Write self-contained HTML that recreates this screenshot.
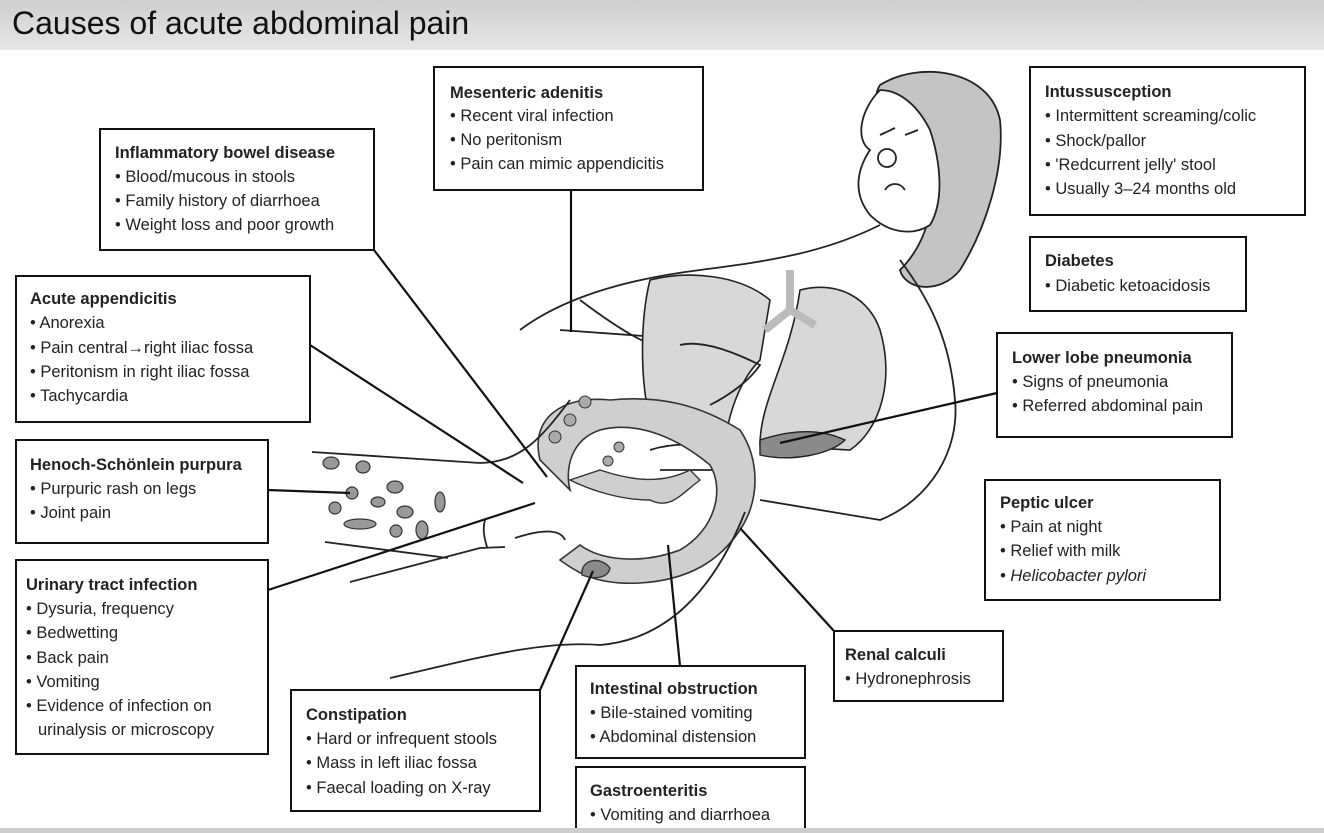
<!DOCTYPE html>
<html><head><meta charset="utf-8"><style>
body{margin:0;background:#fff;}
svg{display:block}
text{font-family:"Liberation Sans",sans-serif;font-size:16.5px;fill:#222}
.t{font-weight:bold;font-size:16.5px}
.b{fill:#fff;stroke:#111;stroke-width:2}
.l{stroke:#111;stroke-width:2.2;fill:none}
.o{stroke:#222;stroke-width:1.8;fill:none}
</style></head><body>
<svg width="1324" height="833" viewBox="0 0 1324 833">
<defs><linearGradient id="g" x1="0" y1="0" x2="0" y2="1"><stop offset="0" stop-color="#cfcfcf"/><stop offset="1" stop-color="#e6e6e6"/></linearGradient></defs>
<rect x="0" y="0" width="1324" height="50" fill="url(#g)"/>
<text x="12" y="34" style="font-size:32px;fill:#111">Causes of acute abdominal pain</text>

<!-- illustration -->
<!-- hair -->
<path d="M880,85 C920,60 990,70 1000,120 C1005,170 985,230 960,270 C940,295 905,290 900,270 C930,240 935,200 930,170 L900,150 C880,120 870,100 880,85 Z" fill="#c4c4c4" stroke="#222" stroke-width="1.8"/>
<!-- face -->
<path d="M880,90 C860,110 855,140 870,150 C860,165 850,190 870,215 C890,235 915,235 930,225 C945,200 940,160 930,130 C915,100 895,90 880,90 Z" fill="#fff" stroke="#222" stroke-width="1.8"/>
<circle cx="887" cy="158" r="9" class="o"/>
<path class="o" d="M885,190 C890,182 900,182 905,190"/>
<path class="o" d="M880,135 L895,128 M905,135 L918,130"/>
<!-- body outline -->
<path class="o" d="M520,330 C560,300 620,280 700,270 C760,262 820,255 880,225"/>
<path class="o" d="M900,260 C930,300 950,340 955,400 C960,450 930,500 880,520 L760,500"/>
<path class="o" d="M580,300 C620,330 650,350 700,360 M560,330 L700,340"/>
<!-- lungs -->
<path d="M650,280 C690,270 740,275 770,300 L760,360 C740,380 730,410 725,440 L650,420 C640,380 640,320 650,280 Z" fill="#d8d8d8" stroke="#222" stroke-width="1.6"/>
<path d="M800,290 C840,280 870,300 880,330 C895,380 880,430 850,450 L760,445 C760,400 790,360 800,290 Z" fill="#d8d8d8" stroke="#222" stroke-width="1.6"/>
<path d="M760,440 C790,430 820,428 845,440 C830,455 790,462 760,455 Z" fill="#8a8a8a" stroke="#222" stroke-width="1.4"/>
<path d="M790,270 L790,310 L765,330 M790,310 L815,325" stroke="#bbb" stroke-width="8" fill="none"/>
<!-- hands -->
<path class="o" d="M680,345 C700,340 730,350 760,365 C750,380 730,395 710,405"/>
<path class="o" d="M650,450 C680,440 720,445 750,455 L720,470 L660,470"/>
<!-- colon -->
<path d="M540,460 C530,420 560,395 610,400 C660,395 700,405 740,430 C760,460 760,500 740,530 C720,560 690,580 640,583 C600,585 580,575 560,560 L580,545 C600,560 640,565 680,550 C715,530 725,490 710,465 C680,440 640,420 600,430 C570,440 565,470 570,490 Z" fill="#cfcfcf" stroke="#333" stroke-width="1.6"/>
<path d="M570,480 C590,490 620,500 650,500 C670,510 680,495 700,480 L690,470 C660,485 630,480 600,470 Z" fill="#cfcfcf" stroke="#333" stroke-width="1.4"/>
<path d="M582,575 C580,560 600,555 610,568 C608,578 595,580 582,575 Z" fill="#8a8a8a" stroke="#333" stroke-width="1.4"/>
<circle cx="585" cy="402" r="6" fill="#aaa" stroke="#333"/><circle cx="570" cy="420" r="6" fill="#aaa" stroke="#333"/><circle cx="555" cy="437" r="6" fill="#aaa" stroke="#333"/><circle cx="619" cy="447" r="5" fill="#aaa" stroke="#333"/><circle cx="608" cy="461" r="5" fill="#aaa" stroke="#333"/>
<!-- legs / pelvis -->
<path class="o" d="M312,452 L480,463 C520,462 540,440 570,400"/>
<path class="o" d="M325,542 L448,558 M350,582 L480,548 L505,547"/>
<path class="o" d="M390,678 C470,660 540,640 600,645 C660,640 710,600 745,512"/>
<path class="o" d="M485,520 C482,530 485,540 487,547 M515,538 C540,530 560,528 565,540"/>
<!-- HSP spots -->
<g fill="#999" stroke="#333" stroke-width="1.2">
<ellipse cx="331" cy="463" rx="8" ry="6"/><ellipse cx="363" cy="467" rx="7" ry="6"/><ellipse cx="395" cy="487" rx="8" ry="6"/><ellipse cx="352" cy="493" rx="6" ry="6"/><ellipse cx="378" cy="502" rx="7" ry="5"/><ellipse cx="405" cy="512" rx="8" ry="6"/><ellipse cx="335" cy="508" rx="6" ry="6"/><ellipse cx="396" cy="531" rx="6" ry="6"/><ellipse cx="440" cy="502" rx="5" ry="10"/><ellipse cx="360" cy="524" rx="16" ry="5"/><ellipse cx="422" cy="530" rx="6" ry="9"/>
</g>

<!-- connectors -->
<path class="l" d="M374,250 L547,477"/>
<path class="l" d="M571,190 L571,332"/>
<path class="l" d="M310,345 L523,483"/>
<path class="l" d="M268,490 L350,493"/>
<path class="l" d="M268,590 L535,503"/>
<path class="l" d="M540,690 L593,571"/>
<path class="l" d="M668,545 L680,666"/>
<path class="l" d="M834,631 L740,528"/>
<path class="l" d="M997,393 L780,443"/>

<!-- boxes -->
<rect class="b" x="434" y="67" width="269" height="123"/>
<text class="t" x="450" y="98">Mesenteric adenitis</text>
<text x="450" y="121">• Recent viral infection</text><text x="450" y="145">• No peritonism</text><text x="450" y="169">• Pain can mimic appendicitis</text>

<rect class="b" x="100" y="129" width="274" height="121"/>
<text class="t" x="115" y="158">Inflammatory bowel disease</text>
<text x="115" y="182">• Blood/mucous in stools</text><text x="115" y="206">• Family history of diarrhoea</text><text x="115" y="230">• Weight loss and poor growth</text>

<rect class="b" x="1030" y="67" width="275" height="148"/>
<text class="t" x="1045" y="97">Intussusception</text>
<text x="1045" y="121">• Intermittent screaming/colic</text><text x="1045" y="146">• Shock/pallor</text><text x="1045" y="170">• 'Redcurrent jelly' stool</text><text x="1045" y="194">• Usually 3–24 months old</text>

<rect class="b" x="1030" y="237" width="216" height="74"/>
<text class="t" x="1045" y="266">Diabetes</text>
<text x="1045" y="291">• Diabetic ketoacidosis</text>

<rect class="b" x="16" y="276" width="294" height="146"/>
<text class="t" x="30" y="304">Acute appendicitis</text>
<text x="30" y="328">• Anorexia</text><text x="30" y="353">• Pain central→right iliac fossa</text><text x="30" y="377">• Peritonism in right iliac fossa</text><text x="30" y="401">• Tachycardia</text>

<rect class="b" x="997" y="333" width="235" height="104"/>
<text class="t" x="1012" y="363">Lower lobe pneumonia</text>
<text x="1012" y="387">• Signs of pneumonia</text><text x="1012" y="411">• Referred abdominal pain</text>

<rect class="b" x="16" y="440" width="252" height="103"/>
<text class="t" x="30" y="470">Henoch-Schönlein purpura</text>
<text x="30" y="494">• Purpuric rash on legs</text><text x="30" y="518">• Joint pain</text>

<rect class="b" x="985" y="480" width="235" height="120"/>
<text class="t" x="1000" y="508">Peptic ulcer</text>
<text x="1000" y="532">• Pain at night</text><text x="1000" y="556">• Relief with milk</text><text x="1000" y="581" style="font-style:italic">• Helicobacter pylori</text>

<rect class="b" x="16" y="560" width="252" height="194"/>
<text class="t" x="26" y="590">Urinary tract infection</text>
<text x="26" y="614">• Dysuria, frequency</text><text x="26" y="638">• Bedwetting</text><text x="26" y="663">• Back pain</text><text x="26" y="687">• Vomiting</text><text x="26" y="711">• Evidence of infection on</text><text x="38" y="735">urinalysis or microscopy</text>

<rect class="b" x="834" y="631" width="169" height="70"/>
<text class="t" x="845" y="660">Renal calculi</text>
<text x="845" y="684">• Hydronephrosis</text>

<rect class="b" x="291" y="690" width="249" height="121"/>
<text class="t" x="306" y="720">Constipation</text>
<text x="306" y="744">• Hard or infrequent stools</text><text x="306" y="768">• Mass in left iliac fossa</text><text x="306" y="793">• Faecal loading on X-ray</text>

<rect class="b" x="576" y="666" width="229" height="92"/>
<text class="t" x="590" y="694">Intestinal obstruction</text>
<text x="590" y="718">• Bile-stained vomiting</text><text x="590" y="742">• Abdominal distension</text>

<rect class="b" x="576" y="767" width="229" height="70"/>
<text class="t" x="590" y="796">Gastroenteritis</text>
<text x="590" y="820">• Vomiting and diarrhoea</text>
<rect x="0" y="828" width="1324" height="5" fill="#ccc"/>
</svg>
</body></html>
